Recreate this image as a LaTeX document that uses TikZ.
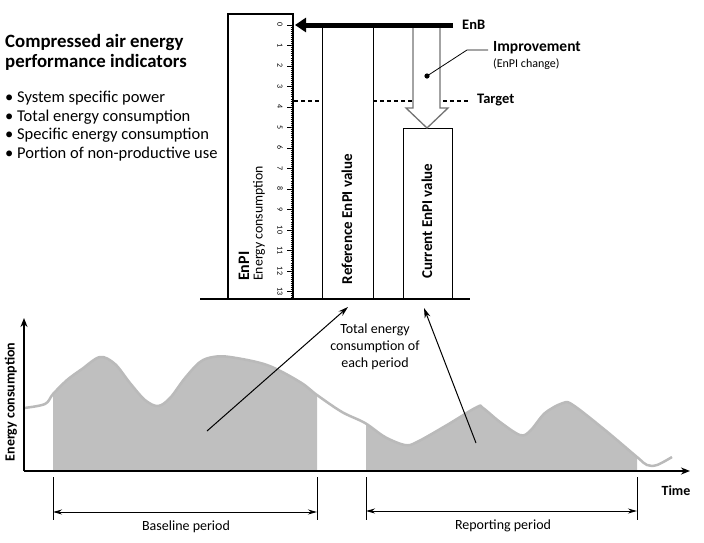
\documentclass[tikz,border=0pt]{standalone}
\usepackage{fontspec}
\setmainfont{Carlito}
\usetikzlibrary{arrows.meta}
\begin{document}
\begin{tikzpicture}[x=1pt,y=-1pt,
  txt/.style={inner sep=0pt},
  fs/.style={font=\fontsize{#1}{#1}\selectfont},
  bfs/.style={font=\fontsize{#1}{#1}\selectfont\bfseries},
  tick/.style={line width=0.6pt},
  ticklbl/.style={inner sep=0pt, rotate=-90, font=\fontsize{8}{8}\selectfont},
  thinline/.style={line width=1pt},
  hollow/.style={draw=black!55, line width=1.3pt, fill=white, line join=miter},
  target/.style={line width=1.5pt, dash pattern=on 4pt off 3pt},
  area/.style={fill=black!25},
  curveline/.style={draw=black!27, line width=2.5pt, line join=round},
  axis/.style={line width=1.5pt, -{Stealth[length=9pt,width=7pt]}},
  period/.style={line width=1pt, {Stealth[length=9pt,width=5pt]}-{Stealth[length=9pt,width=5pt]}},
  pointer/.style={line width=1pt, -{Stealth[length=10pt,width=6pt]}},
  boxline/.style={draw, line width=1pt},
]
\useasboundingbox (0,0) rectangle (704,542);

% ---------- left text ----------
\node[txt, bfs=18.8, anchor=west] (t1) at (5,42) {Compressed air energy};
\node[txt, bfs=18.8, anchor=west] (t2) at (5,62) {performance indicators};
\node[txt, fs=16.5, anchor=west] (b1) at (5,98) {• System specific power};
\node[txt, fs=16.5, anchor=west] (b2) at (5,117) {• Total energy consumption};
\node[txt, fs=16.5, anchor=west] (b3) at (5,135) {• Specific energy consumption};
\node[txt, fs=16.5, anchor=west] (b4) at (5,154) {• Portion of non-productive use};

% ---------- bar part ----------
\coordinate (baseL) at (200,299);
\coordinate (baseR) at (470,299);
\node[draw, line width=2pt, minimum width=65pt, minimum height=285pt, inner sep=0pt] (ruler) at (260.5,156.5) {};
\foreach \i in {0,...,13} {
  \draw[tick] (287,{25+20.5*\i}) -- (293,{25+20.5*\i});
  \node[ticklbl] (n\i) at (280,{25+20.5*\i}) {\i};
}
\foreach \j in {0,...,133} {
  \draw[tick] (290.5,{25+2.05*\j}) -- (293,{25+2.05*\j});
}
\node[txt, bfs=16, rotate=90, anchor=west] (enpi) at (244,281) {EnPI};
\node[txt, fs=13.8, rotate=90, anchor=west] (encons) at (259,281) {Energy consumption};

% reference column
\coordinate (refLt) at (322.5,25);
\coordinate (refRt) at (373,25);
\draw[thinline] (refLt) -- (refLt |- baseL);
\draw[thinline] (refRt) -- (refRt |- baseL);
\node[txt, bfs=15, rotate=90] (reftext) at (347,219) {Reference EnPI value};

% current box
\node[boxline, minimum width=49pt, minimum height=171pt, inner sep=0pt] (cur) at (427.5,213.5) {};
\node[txt, bfs=15, rotate=90] (curtext) at (427,221) {Current EnPI value};

% target dashed line
\draw[target] (ruler.east |- 0,101) -- (refLt |- 0,101);
\draw[target] (refRt |- 0,101) -- (470,101);
\node[txt, bfs=14.5, anchor=west] (target) at (477,100) {Target};

% hollow arrow
\coordinate (tip) at (427,128);
\draw[hollow] (413,25) -- (413,108) -- (406,108) -- (tip) -- (448,108) -- (440,108) -- (440,25);

% improvement
\node[txt, bfs=15.5, anchor=west] (impr) at (493,48) {Improvement};
\node[txt, fs=12, anchor=west] (imprsub) at (493,64) {(EnPI change)};
\fill (427,76) circle (2.6pt) coordinate (dot);
\draw[line width=0.8pt] (dot) -- (467,50) -- ([xshift=-5pt]impr.west |- 0,50);

% EnB bar
\node[txt, bfs=14.5, anchor=west] (enb) at (462,25) {EnB};
\coordinate (enbR) at (453,25);
\draw[line width=5pt, -{Triangle[length=11pt,width=14pt]}] (enbR) -- (295,25);

% baseline of bar chart
\draw[line width=2pt] (baseL) -- (baseR);

% ---------- chart ----------
\begin{scope}
\clip (53,300) rectangle (317,471) (366,300) rectangle (637,471);
\fill[area] plot[smooth, tension=0.55] coordinates {(24,408) (45,404) (53,394) (67,380) (82,369) (100,357) (115,364) (130,383) (145,400) (158,406) (170,398) (185,378) (200,362) (213,357) (230,357) (267,365) (300,382) (317,395) (342,412) (365,423) (385,437) (405,445) (417,442) (447,425) (477,407) (483,408) (500,422) (520,435) (530,431) (545,413) (563,403) (573,405) (605,430) (637,457) (647,465) (657,465) (672,457)} -- (672,471) -- (24,471) -- cycle;
\end{scope}
\draw[curveline] plot[smooth, tension=0.55] coordinates {(24,408) (45,404) (53,394) (67,380) (82,369) (100,357) (115,364) (130,383) (145,400) (158,406) (170,398) (185,378) (200,362) (213,357) (230,357) (267,365) (300,382) (317,395) (342,412) (365,423) (385,437) (405,445) (417,442) (447,425) (477,407) (483,408) (500,422) (520,435) (530,431) (545,413) (563,403) (573,405) (605,430) (637,457) (647,465) (657,465) (672,457)};

\coordinate (origin) at (24,471);
\draw[axis] (origin) -- (24,318);
\draw[axis] (origin) -- (690,471);
\node[txt, bfs=14, rotate=90] (ylab) at (11,402) {Energy consumption};
\node[txt, bfs=14] (xlab) at (676,491) {Time};

% periods
\coordinate (bs) at (53,477); \coordinate (be) at (317,477);
\coordinate (rs) at (366,477); \coordinate (re) at (637,477);
\draw[line width=0.8pt] (bs) -- ++(0,43);
\draw[line width=0.8pt] (be) -- ++(0,43);
\draw[line width=0.8pt] (rs) -- ++(0,43);
\draw[line width=0.8pt] (re) -- ++(0,43);
\draw[period] (bs |- 0,512) -- (be |- 0,512);
\draw[period] (rs |- 0,511) -- (re |- 0,511);
\node[txt, fs=14, align=center] (blab) at (186,527) {Baseline period};
\node[txt, fs=14, align=center] (rlab) at (503,526) {Reporting period};

% total energy pointers
\node[txt, fs=14, align=center] (total) at (375,347) {Total energy\\[3pt]consumption of\\[3pt]each period};
\coordinate (bArea) at (207,431);
\coordinate (rArea) at (476,443);
\draw[pointer] (bArea) -- (348,307);
\draw[pointer] (rArea) -- (424,308);
\end{tikzpicture}
\end{document}
